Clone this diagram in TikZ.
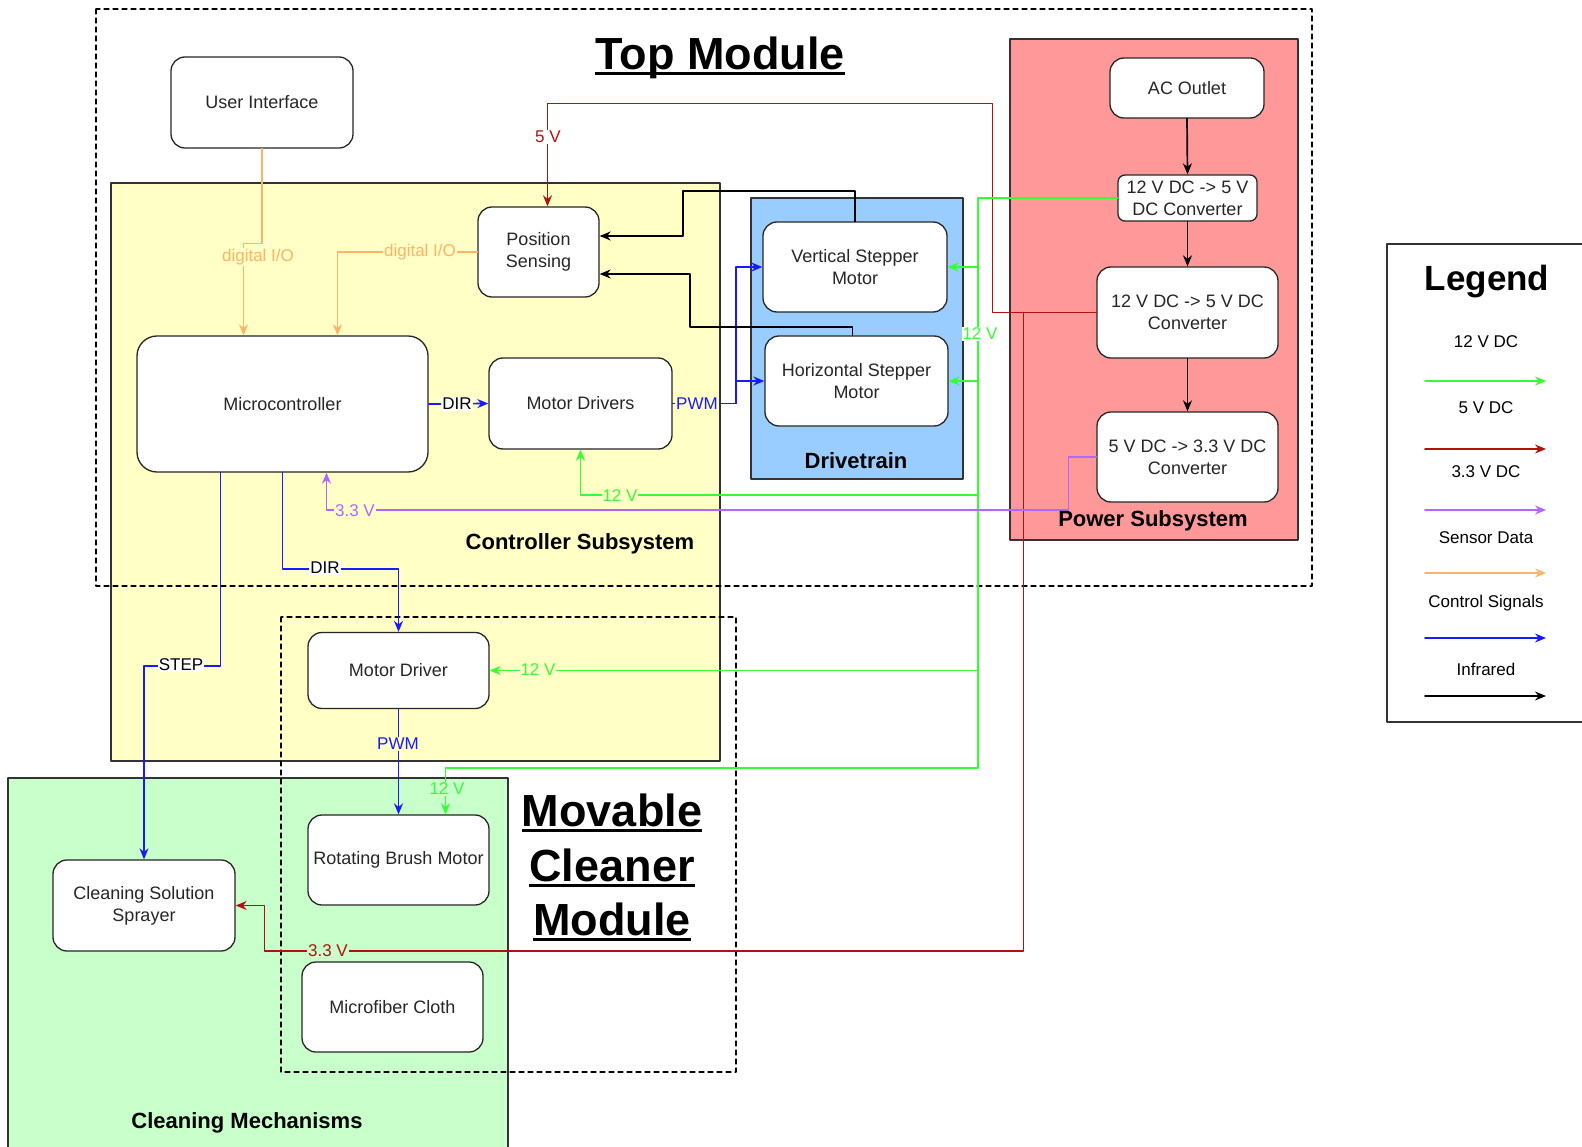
\documentclass[tikz,border=0pt]{standalone}
\usepackage{fontspec}
\setmainfont{Liberation Sans}
\usetikzlibrary{arrows.meta}
\definecolor{yelfill}{HTML}{FFFFC6}
\definecolor{drvfill}{HTML}{99CCFF}
\definecolor{powfill}{HTML}{FF9999}
\definecolor{clnfill}{HTML}{C8FFCA}
\definecolor{grn}{HTML}{33FF33}
\definecolor{dred}{HTML}{B01212}
\definecolor{pur}{HTML}{B266FF}
\definecolor{org}{HTML}{FFB366}
\definecolor{blu}{HTML}{1A1AFF}
\begin{document}
\begin{tikzpicture}[line cap=round,line join=round,>={Stealth[length=11pt,width=9pt]},x=1pt,y=-1pt,
	box/.style={draw=black!85,line width=1.3pt,fill=white,rounded corners=14pt,align=center,font=\fontsize{18}{22}\selectfont,text=black!85,inner sep=2pt},
	grp/.style={draw=black!80,line width=1.3pt},
	dsh/.style={draw=black,line width=1.2pt,dash pattern=on 5pt off 4pt},
	lbl/.style={font=\fontsize{17}{20}\selectfont,inner sep=1pt},
	ttl/.style={font=\fontsize{22}{26}\selectfont\bfseries},
	big/.style={font=\fontsize{45}{54}\selectfont\bfseries,inner sep=0pt,anchor=base},
	uln/.style={line width=3pt,line cap=butt},
	v12/.style={draw=grn,line width=1.7pt},
	v5/.style={draw=dred,line width=1.7pt},
	v33/.style={draw=pur,line width=1.7pt},
	ctl/.style={draw=org,line width=1.7pt},
	sig/.style={draw=blu,line width=1.7pt},
	ir/.style={draw=black,line width=1.7pt}]
	\useasboundingbox (0,0) rectangle (1582,1147);
	\clip (0,0) rectangle (1582,1147);
	\draw[grp,fill=yelfill] (111,183) rectangle (720,761);
	\draw[grp,fill=drvfill] (751,198) rectangle (963,479);
	\draw[grp,fill=powfill] (1010,39) rectangle (1298,540);
	\draw[grp,fill=clnfill] (8,778) rectangle (508,1160);
	\draw[grp] (1387,244) rectangle (1600,722);
	\draw[dsh] (96,9) rectangle (1312,586);
	\draw[dsh] (281,617) rectangle (736,1072);

	\node[box,minimum width=182pt,minimum height=91pt] (ui) at (262,102.5) {User Interface};
	\node[box,minimum width=121pt,minimum height=90pt] (pos) at (538.5,252) {Position\\Sensing};
	\node[box,minimum width=291pt,minimum height=136pt,rounded corners=20pt] (micro) at (282.5,404) {Microcontroller};
	\node[box,minimum width=183pt,minimum height=91pt] (drv) at (580.5,403.5) {Motor Drivers};
	\node[box,minimum width=184pt,minimum height=90pt] (vsm) at (855,267) {Vertical Stepper\\Motor};
	\node[box,minimum width=183pt,minimum height=90pt] (hsm) at (856.5,381) {Horizontal Stepper\\Motor};
	\node[box,minimum width=154pt,minimum height=60pt] (ac) at (1187,88) {AC Outlet};
	\node[box,minimum width=139pt,minimum height=46pt,rounded corners=7pt,inner sep=1pt] (c1) at (1187.5,198) {12 V DC -> 5 V\\DC Converter};
	\node[box,minimum width=181pt,minimum height=91pt] (c2) at (1187.5,312.5) {12 V DC -> 5 V DC\\Converter};
	\node[box,minimum width=181pt,minimum height=90pt] (c3) at (1187.5,457) {5 V DC -> 3.3 V DC\\Converter};
	\node[box,minimum width=181pt,minimum height=76pt] (mdr) at (398.5,670.5) {Motor Driver};
	\node[box,minimum width=181pt,minimum height=90pt] (brush) at (398.5,860) {Rotating Brush Motor};
	\node[box,minimum width=182pt,minimum height=91pt] (spr) at (144,905.5) {Cleaning Solution\\Sprayer};
	\node[box,minimum width=181pt,minimum height=90pt] (cloth) at (392.5,1007) {Microfiber Cloth};
	\coordinate (g12) at (978,198);

	\draw[ctl,->] (ui.south) -- ++(0,95) -| ([xshift=-39pt]micro.north);
	\draw[ctl,->] (pos.west) -| ([xshift=55pt]micro.north);
	\draw[sig,->] (micro.east) -- (drv.west);
	\draw[sig,->] (drv.east) -- ++(63,0) |- (vsm.west);
	\draw[sig,->] (drv.east) -- ++(63,0) |- (hsm.west);
	\draw[ir,->] (vsm.north) -- ++(0,-30) -- ++(-172,0) |- ([yshift=16pt]pos.east);
	\draw[ir,->] ([xshift=-4pt]hsm.north) -- ++(0,-8) -- ++(-162.5,0) |- ([yshift=-22pt]pos.east);
	\draw[ir,->] (ac.south) -- (c1.north);
	\draw[ir,->] (c1.south) -- (c2.north);
	\draw[ir,->] (c2.south) -- (c3.north);
	\draw[v5,->] (c2.west) -- ++(-104,0) -- ++(0,-209) -| ([xshift=9pt]pos.north);
	\draw[v5,->] ([xshift=-73pt]c2.west) -- ++(0,638.5) -- ++(-759,0) |- (spr.east);
	\draw[v12,->] (c1.west) -- (g12) -- ++(0,570) -| ([xshift=47pt]brush.north);
	\draw[v12,->] (g12 |- vsm.east) -- (vsm.east);
	\draw[v12,->] (g12 |- hsm.east) -- (hsm.east);
	\draw[v12,->] (g12) ++(0,297) -| (drv.south);
	\draw[v12,->] (g12 |- mdr.east) -- (mdr.east);
	\draw[v33,->] (c3.west) -- ++(-28,0) -- ++(0,53) -| ([xshift=44pt]micro.south);
	\draw[sig,->] (micro.south) -- ++(0,96) -| (mdr.north);
	\draw[sig,->] ([xshift=-62pt]micro.south) -- ++(0,193) -| (spr.north);
	\draw[sig,->] (mdr.south) -- (brush.north);

	\node[lbl,text=dred,fill=white] (l5v) at (548,137) {5 V};
	\node[lbl,text=org,fill=yelfill] (ldio1) at (258,257) {digital I/O};
	\node[lbl,text=org,fill=yelfill] (ldio2) at (420,252) {digital I/O};
	\node[lbl,fill=white] (ldir1) at (457,404) {DIR};
	\node[lbl,text=blu,fill=yelfill] (lpwm1) at (697,404) {PWM};
	\node[lbl,text=grn,fill=white] (l12a) at (980,334) {12 V};
	\node[lbl,text=grn,fill=yelfill] (l12b) at (620,496) {12 V};
	\node[lbl,text=pur,fill=yelfill] (l33a) at (355,511) {3.3 V};
	\node[lbl,fill=white] (ldir2) at (325,568) {DIR};
	\node[lbl,fill=white] (lstep) at (181,665) {STEP};
	\node[lbl,text=grn,fill=yelfill] (l12c) at (538,670) {12 V};
	\node[lbl,text=blu,fill=yelfill] (lpwm2) at (398,744) {PWM};
	\node[lbl,text=grn,fill=clnfill] (l12d) at (447,789) {12 V};
	\node[lbl,text=dred,fill=clnfill] (l33b) at (328,951) {3.3 V};

	\node[big] (ttop) at (720,70) {Top Module};
	\node[big] (tmov1) at (612,826) {Movable};
	\node[big] (tmov2) at (612,881) {Cleaner};
	\node[big] (tmov3) at (612,935) {Module};
	\foreach \t in {ttop,tmov1,tmov2,tmov3}
		\draw[uln] ([yshift=-4pt]\t.base west) -- ([yshift=-4pt]\t.base east);
	\node[ttl] (tctl) at (580,544) {Controller Subsystem};
	\node[ttl] (tdrv) at (856,461) {Drivetrain};
	\node[ttl] (tpow) at (1153,521) {Power Subsystem};
	\node[ttl] (tcln) at (247,1123) {Cleaning Mechanisms};
	\node[font=\fontsize{35}{40}\selectfont\bfseries] (tleg) at (1487,282) {Legend};
	\foreach \txt/\sty/\ly/\ay [count=\i] in {12 V DC/v12/342/381,5 V DC/v5/408/449,3.3 V DC/v33/472/510,Sensor Data/ctl/538/573,Control Signals/sig/603/638,Infrared/ir/669/696}{
		\node[lbl] (leg\i) at (1486,\ly) {\txt};
		\draw[\sty,->] (1425,\ay) -- (1546,\ay);
	}
\end{tikzpicture}
\end{document}
